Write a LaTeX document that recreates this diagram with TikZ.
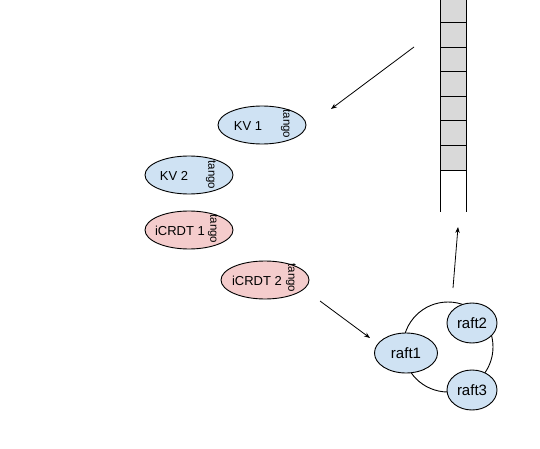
\documentclass[tikz,border=0pt]{standalone}
\usepackage{fontspec}
\setmainfont{Liberation Sans}
\usetikzlibrary{shapes.geometric,arrows.meta}
\definecolor{lblue}{HTML}{CFE2F3}
\definecolor{lred}{HTML}{F4CCCC}
\definecolor{lgray}{HTML}{D9D9D9}
\begin{document}
\begin{tikzpicture}[x=1pt,y=-1pt,
  ell/.style={draw=black,line width=0.9pt,ellipse,inner sep=0pt,minimum width=88pt,minimum height=38pt},
  bl/.style={ell,fill=lblue},
  rd/.style={ell,fill=lred},
  lbl/.style={font=\fontsize{13}{15}\selectfont},
  rlbl/.style={font=\fontsize{15}{17}\selectfont},
  tg/.style={font=\fontsize{11.5}{13}\selectfont,rotate=-90,inner sep=0pt},
  arr/.style={-{Stealth[length=6pt,width=4.5pt]},line width=0.8pt},
  cell/.style={draw=black,line width=1pt,fill=lgray}]
\useasboundingbox (0,0) rectangle (540,449);
% ellipses
\node[bl] (kv1) at (262,125) {};
\node[lbl] (kv1l) at (248,126) {KV 1};
\node[tg] (kv1t) at (286,124) {tango};
\node[bl] (kv2) at (189,175) {};
\node[lbl] (kv2l) at (174,176) {KV 2};
\node[tg] (kv2t) at (211,175) {tango};
\node[rd] (c1) at (189,230) {};
\node[lbl] (c1l) at (180,231) {iCRDT 1};
\node[tg] (c1t) at (213,229) {tango};
\node[rd] (c2) at (265,280) {};
\node[lbl] (c2l) at (257,281) {iCRDT 2};
\node[tg] (c2t) at (291,278) {tango};
% raft
\node[draw=black,line width=0.9pt,circle,minimum size=90pt,inner sep=0pt] (ring) at (448,347) {};
\node[ell,fill=lblue,minimum width=63pt,minimum height=40pt] (r1) at (406,353) {};
\node[rlbl] at (r1) {raft1};
\node[ell,fill=lblue,minimum width=50pt,minimum height=40pt] (r2) at (472,323) {};
\node[rlbl] at (r2) {raft2};
\node[ell,fill=lblue,minimum width=50pt,minimum height=40pt] (r3) at (472,390) {};
\node[rlbl] at (r3) {raft3};
% log
\foreach \i in {0,...,6} {
  \path[cell] (440,{-2+\i*24.6}) rectangle (466,{-2+(\i+1)*24.6});
}
\coordinate (logbl) at (440,212);
\coordinate (logbr) at (466,212);
\draw[line width=1pt] (440,170) -- (logbl);
\draw[line width=1pt] (466,170) -- (logbr);
% arrows
\coordinate (a1s) at (414,47);
\coordinate (a1e) at (331,109);
\draw[arr] (a1s) -- (a1e);
\coordinate (a2s) at (320,301);
\coordinate (a2e) at (370,338);
\draw[arr] (a2s) -- (a2e);
\coordinate (a3s) at (453,288);
\coordinate (a3e) at (458,227);
\draw[arr] (a3s) -- (a3e);
\end{tikzpicture}
\end{document}
